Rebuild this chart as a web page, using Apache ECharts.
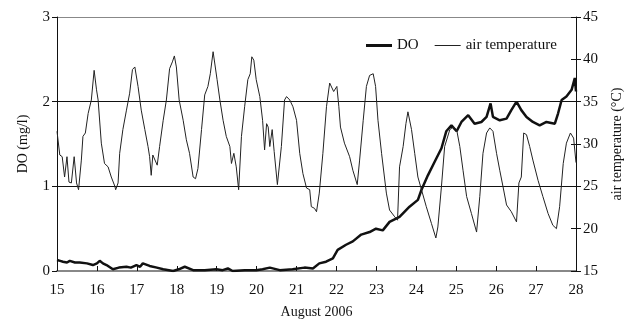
<!DOCTYPE html>
<html style="height: 100%">
<head>
	<meta charset="utf-8">
	<script src="https://cdn.jsdelivr.net/npm/echarts@6/dist/echarts.min.js"></script>
</head>
<body style="height: 100%; margin: 0; background: #fff">
	<div id="container" style="width: 633px; height: 324px"></div>
	<script type="text/javascript">
		// day of August 2006 (fractional) and readings
		let tempDays = [15.00, 15.07, 15.13, 15.19, 15.25, 15.30, 15.36, 15.43, 15.49, 15.54, 15.61, 15.65, 15.71, 15.78, 15.86, 15.93, 15.99, 16.03, 16.11, 16.19,
			16.28, 16.36, 16.45, 16.47, 16.53, 16.57, 16.65, 16.74, 16.82, 16.89, 16.95, 16.99, 17.03, 17.11, 17.20, 17.28, 17.32, 17.36, 17.40, 17.45,
			17.51, 17.57, 17.66, 17.74, 17.82, 17.89, 17.94, 17.99, 18.06, 18.16, 18.24, 18.32, 18.41, 18.47, 18.53, 18.62, 18.70, 18.78, 18.84, 18.91,
			18.95, 19.01, 19.08, 19.16, 19.24, 19.33, 19.37, 19.43, 19.49, 19.55, 19.62, 19.70, 19.78, 19.84, 19.88, 19.93, 19.99, 20.08, 20.15, 20.20,
			20.25, 20.29, 20.33, 20.39, 20.44, 20.47, 20.52, 20.62, 20.70, 20.75, 20.83, 20.91, 21.00, 21.08, 21.16, 21.25, 21.33, 21.37, 21.45, 21.50,
			21.57, 21.66, 21.75, 21.83, 21.87, 21.93, 22.01, 22.06, 22.10, 22.20, 22.33, 22.41, 22.52, 22.58, 22.67, 22.75, 22.83, 22.92, 22.98, 23.04,
			23.13, 23.25, 23.33, 23.46, 23.53, 23.58, 23.67, 23.74, 23.79, 23.88, 23.96, 24.04, 24.13, 24.25, 24.38, 24.49, 24.54, 24.63, 24.71, 24.84,
			24.92, 25.01, 25.09, 25.17, 25.26, 25.38, 25.51, 25.59, 25.67, 25.76, 25.84, 25.92, 26.01, 26.09, 26.17, 26.26, 26.38, 26.51, 26.57, 26.63,
			26.69, 26.76, 26.84, 26.92, 27.05, 27.17, 27.30, 27.42, 27.51, 27.59, 27.68, 27.76, 27.86, 27.94, 28.00];
		let tempValues = [31.5, 28.7, 28.5, 26.1, 28.5, 25.5, 25.4, 28.5, 25.4, 24.6, 28.1, 30.9, 31.3, 33.6, 35.2, 38.7, 36.4, 35.2, 30.1, 27.7,
			27.3, 26.1, 25.0, 24.6, 25.4, 28.9, 31.7, 34.0, 36.0, 38.8, 39.1, 39.3, 36.8, 34.0, 31.7, 29.7, 28.5, 26.3, 28.7, 28.5,
			27.5, 29.7, 32.8, 35.2, 38.9, 39.7, 40.4, 39.1, 35.2, 32.8, 30.5, 28.9, 26.1, 25.9, 27.1, 31.7, 35.8, 36.8, 38.3, 40.9,
			40.7, 37.6, 35.2, 32.8, 30.9, 29.7, 27.7, 28.9, 27.3, 24.6, 30.9, 34.4, 37.6, 38.3, 40.3, 39.9, 37.6, 35.6, 32.8, 29.3,
			32.4, 32.0, 29.7, 31.7, 29.1, 29.3, 25.2, 29.7, 35.2, 35.6, 35.2, 34.4, 32.8, 28.9, 26.5, 24.8, 24.6, 22.6, 22.4, 22.0,
			24.2, 28.9, 34.4, 37.2, 37.4, 36.2, 36.8, 34.4, 32.0, 30.1, 28.5, 26.9, 25.2, 28.1, 32.8, 36.8, 38.1, 38.3, 36.8, 32.8,
			28.9, 24.2, 22.2, 21.4, 21.0, 27.3, 29.7, 32.4, 33.8, 31.7, 28.9, 26.1, 24.6, 22.6, 20.6, 18.9, 20.2, 25.0, 29.7, 31.7,
			32.0, 31.7, 29.7, 26.9, 23.8, 21.8, 19.6, 23.8, 28.9, 31.3, 31.9, 31.5, 28.9, 26.9, 25.0, 22.8, 22.0, 20.8, 25.4, 26.1,
			31.3, 31.1, 29.7, 28.1, 25.7, 23.8, 21.8, 20.4, 20.0, 22.6, 27.7, 30.1, 31.3, 30.7, 27.8];

		let doDays = [15.00, 15.08, 15.15, 15.25, 15.32, 15.45, 15.57, 15.75, 15.90, 16.00, 16.07, 16.15, 16.24, 16.40, 16.55, 16.74, 16.85, 16.99, 17.08, 17.15,
			17.32, 17.50, 17.66, 17.91, 18.05, 18.20, 18.41, 18.70, 18.99, 19.15, 19.28, 19.40, 19.70, 19.99, 20.15, 20.33, 20.58, 20.90, 21.20, 21.41,
			21.57, 21.74, 21.91, 22.03, 22.24, 22.41, 22.62, 22.83, 22.99, 23.16, 23.33, 23.58, 23.83, 24.04, 24.13, 24.29, 24.46, 24.63, 24.75, 24.88,
			25.01, 25.13, 25.30, 25.46, 25.63, 25.76, 25.86, 25.92, 26.09, 26.26, 26.38, 26.51, 26.63, 26.76, 26.92, 27.09, 27.26, 27.47, 27.55, 27.64,
			27.76, 27.89, 27.97, 28.00];
		let doValues = [0.13, 0.12, 0.11, 0.10, 0.12, 0.10, 0.10, 0.09, 0.07, 0.09, 0.12, 0.09, 0.07, 0.02, 0.04, 0.05, 0.04, 0.07, 0.05, 0.09,
			0.06, 0.04, 0.02, 0.00, 0.02, 0.05, 0.01, 0.01, 0.02, 0.01, 0.03, 0.00, 0.01, 0.01, 0.02, 0.04, 0.01, 0.02, 0.04, 0.03,
			0.09, 0.11, 0.15, 0.25, 0.31, 0.35, 0.43, 0.46, 0.50, 0.48, 0.58, 0.64, 0.76, 0.84, 0.96, 1.13, 1.29, 1.45, 1.65, 1.72,
			1.65, 1.76, 1.84, 1.74, 1.76, 1.82, 1.98, 1.82, 1.78, 1.80, 1.90, 2.00, 1.90, 1.82, 1.76, 1.72, 1.76, 1.74, 1.86, 2.02,
			2.06, 2.14, 2.28, 2.12];

		let fontName = 'Liberation Serif';
		let dom = document.getElementById("container");
		let myChart = echarts.init(dom);

		function pairs(xs, ys) {
			let out = [];
			for (let i = 0; i < xs.length; i++) {
				out.push([xs[i], ys[i]]);
			}
			return out;
		}

		// legend swatches: plain bars, thick for DO and thin for temperature
		// (the two dots keep the box full height so the bar is not stretched)
		let thickIcon = 'path://M0,0L0.01,0L0.01,0.01ZM0,14L0.01,14L0.01,13.99ZM0,5.5L26,5.5L26,8.5L0,8.5Z';
		let thinIcon = 'path://M0,0L0.01,0L0.01,0.01ZM0,14L0.01,14L0.01,13.99ZM0,6.5L26,6.5L26,7.6L0,7.6Z';

		let option = {
			animation: false,
			textStyle: { fontFamily: fontName, color: '#111' },
			grid: { left: 57, right: 57, top: 17, bottom: 53 },
			legend: {
				left: 361,
				top: 33,
				itemWidth: 26,
				itemHeight: 14,
				itemGap: 16,
				textStyle: { fontFamily: fontName, fontSize: 15, color: '#111' },
				data: [
					{ name: 'DO', icon: thickIcon },
					{ name: 'air temperature', icon: thinIcon }
				]
			},
			xAxis: {
				type: 'value',
				min: 15,
				max: 28,
				interval: 1,
				name: 'August 2006',
				nameLocation: 'middle',
				nameGap: 34,
				nameTextStyle: { fontFamily: fontName, fontSize: 14, color: '#111' },
				axisLine: { lineStyle: { color: '#888', width: 2 } },
				axisTick: { inside: true, length: 5, lineStyle: { color: '#111' } },
				axisLabel: { fontFamily: fontName, fontSize: 15, color: '#111', margin: 12 },
				splitLine: { show: false }
			},
			yAxis: [
				{
					type: 'value',
					min: 0,
					max: 3,
					interval: 1,
					name: 'DO (mg/l)',
					nameLocation: 'middle',
					nameGap: 27,
					nameRotate: 90,
					nameTextStyle: { fontFamily: fontName, fontSize: 14, color: '#111' },
					axisLine: { show: true, lineStyle: { color: '#111' } },
					axisTick: { show: true, length: 5, lineStyle: { color: '#111' } },
					axisLabel: { fontFamily: fontName, fontSize: 15, color: '#111', margin: 7 },
					splitLine: { show: true, lineStyle: { color: ['#888', '#111', '#111', '#888'], width: 1.2 } }
				},
				{
					type: 'value',
					position: 'right',
					min: 15,
					max: 45,
					interval: 5,
					name: 'air temperature (\u00b0C)',
					nameLocation: 'middle',
					nameGap: 34,
					nameRotate: 90,
					nameTextStyle: { fontFamily: fontName, fontSize: 14, color: '#111' },
					axisLine: { show: true, lineStyle: { color: '#111' } },
					axisTick: { show: true, length: 5, lineStyle: { color: '#111' } },
					axisLabel: { fontFamily: fontName, fontSize: 15, color: '#111', margin: 7 },
					splitLine: { show: false }
				},
				{
					// inner half of the crossing ticks on the right axis
					type: 'value',
					position: 'right',
					min: 15,
					max: 45,
					interval: 5,
					axisLine: { show: false },
					axisTick: { show: true, inside: true, length: 5, lineStyle: { color: '#111' } },
					axisLabel: { show: false },
					splitLine: { show: false }
				}
			],
			series: [
				{
					name: 'DO',
					type: 'line',
					yAxisIndex: 0,
					symbol: 'none',
					lineStyle: { color: '#111', width: 2.5 },
					itemStyle: { color: '#111' },
					data: pairs(doDays, doValues)
				},
				{
					name: 'air temperature',
					type: 'line',
					yAxisIndex: 1,
					symbol: 'none',
					lineStyle: { color: '#222', width: 1 },
					itemStyle: { color: '#222' },
					data: pairs(tempDays, tempValues)
				}
			]
		};

		myChart.setOption(option);
	</script>
</body>
</html>
